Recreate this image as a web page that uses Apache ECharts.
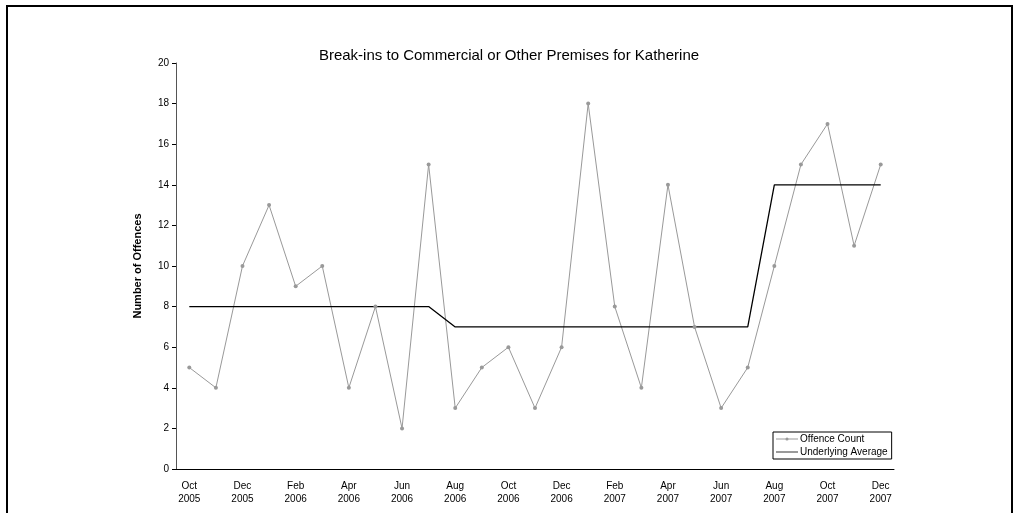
<!DOCTYPE html>
<html>
<head>
<meta charset="utf-8">
<script src="https://cdn.jsdelivr.net/npm/echarts@6/dist/echarts.min.js"></script>
<style>
html, body { margin: 0; padding: 0; background: #fff; }
#main { width: 1018px; height: 513px; }
</style>
</head>
<body>
<div id="main"></div>
<script>
// monthly categories, Oct 2005 .. Dec 2007
var months = ['Oct\n2005', 'Nov\n2005', 'Dec\n2005', 'Jan\n2006', 'Feb\n2006', 'Mar\n2006', 'Apr\n2006',
    'May\n2006', 'Jun\n2006', 'Jul\n2006', 'Aug\n2006', 'Sep\n2006', 'Oct\n2006', 'Nov\n2006', 'Dec\n2006',
    'Jan\n2007', 'Feb\n2007', 'Mar\n2007', 'Apr\n2007', 'May\n2007', 'Jun\n2007', 'Jul\n2007', 'Aug\n2007',
    'Sep\n2007', 'Oct\n2007', 'Nov\n2007', 'Dec\n2007']
var offenceCount = [5, 4, 10, 13, 9, 10, 4, 8, 2, 15, 3, 5, 6, 3, 6, 18, 8, 4, 14, 7, 3, 5, 10, 15, 17, 11, 15]
var underlyingAverage = [8, 8, 8, 8, 8, 8, 8, 8, 8, 8, 7, 7, 7, 7, 7, 7, 7, 7, 7, 7, 7, 7, 14, 14, 14, 14, 14]

var font = 'Arial, "Liberation Sans", sans-serif'

// legend icons: thin line, and thin line with a small dot in the middle
var lineIcon = 'path://M0,4.6 L22,4.6 L22,5.4 L0,5.4 Z'
var dotLineIcon = 'path://M0,4.6 L22,4.6 L22,5.4 L0,5.4 Z M11,3.4 A1.6,1.6 0 1,1 11,6.6 A1.6,1.6 0 1,1 11,3.4 Z'

var option = {
    animation: false,
    backgroundColor: '#fff',
    textStyle: { fontFamily: font },
    title: {
        text: 'Break-ins to Commercial or Other Premises for Katherine',
        left: 504,
        top: 43,
        textAlign: 'center',
        textStyle: { fontSize: 15, fontWeight: 'normal', color: '#000', fontFamily: font }
    },
    graphic: [{
        type: 'rect',
        shape: { x: 7, y: 6, width: 1005, height: 520 },
        style: { fill: 'none', stroke: '#000', lineWidth: 2 }
    }],
    legend: {
        orient: 'vertical',
        left: 773,
        top: 432,
        padding: [2, 4, 2, 3],
        itemGap: 3,
        itemWidth: 22,
        itemHeight: 10,
        borderColor: '#000',
        borderWidth: 1,
        textStyle: { fontSize: 10, color: '#000', fontFamily: font, padding: [0, 0, 0, -3] },
        data: [
            { name: 'Offence Count', icon: dotLineIcon },
            { name: 'Underlying Average', icon: lineIcon }
        ]
    },
    grid: { left: 176, right: 124, top: 63, bottom: 44 },
    xAxis: {
        type: 'category',
        data: months,
        boundaryGap: true,
        axisLine: { lineStyle: { color: '#000', width: 1 } },
        axisTick: { interval: 0, length: 4, lineStyle: { color: '#000' } },
        axisLabel: { interval: 1, fontSize: 10, color: '#000', lineHeight: 13, margin: 11 }
    },
    yAxis: {
        type: 'value',
        min: 0,
        max: 20,
        interval: 2,
        name: 'Number of Offences',
        nameLocation: 'middle',
        nameGap: 33,
        nameTextStyle: { fontSize: 11, fontWeight: 'bold', color: '#000', fontFamily: font },
        axisLine: { show: true, lineStyle: { color: '#555', width: 1 } },
        axisTick: { show: true, length: 4, lineStyle: { color: '#000' } },
        axisLabel: { fontSize: 10, color: '#000', margin: 7 },
        splitLine: { show: false }
    },
    series: [
        {
            name: 'Offence Count',
            type: 'line',
            data: offenceCount,
            symbol: 'circle',
            symbolSize: 4,
            itemStyle: { color: '#999' },
            lineStyle: { color: '#999', width: 1 }
        },
        {
            name: 'Underlying Average',
            type: 'line',
            data: underlyingAverage,
            symbol: 'none',
            itemStyle: { color: '#000' },
            lineStyle: { color: '#000', width: 1.3 }
        }
    ]
}

var myChart = echarts.init(document.getElementById('main'))
myChart.setOption(option)
</script>
</body>
</html>
